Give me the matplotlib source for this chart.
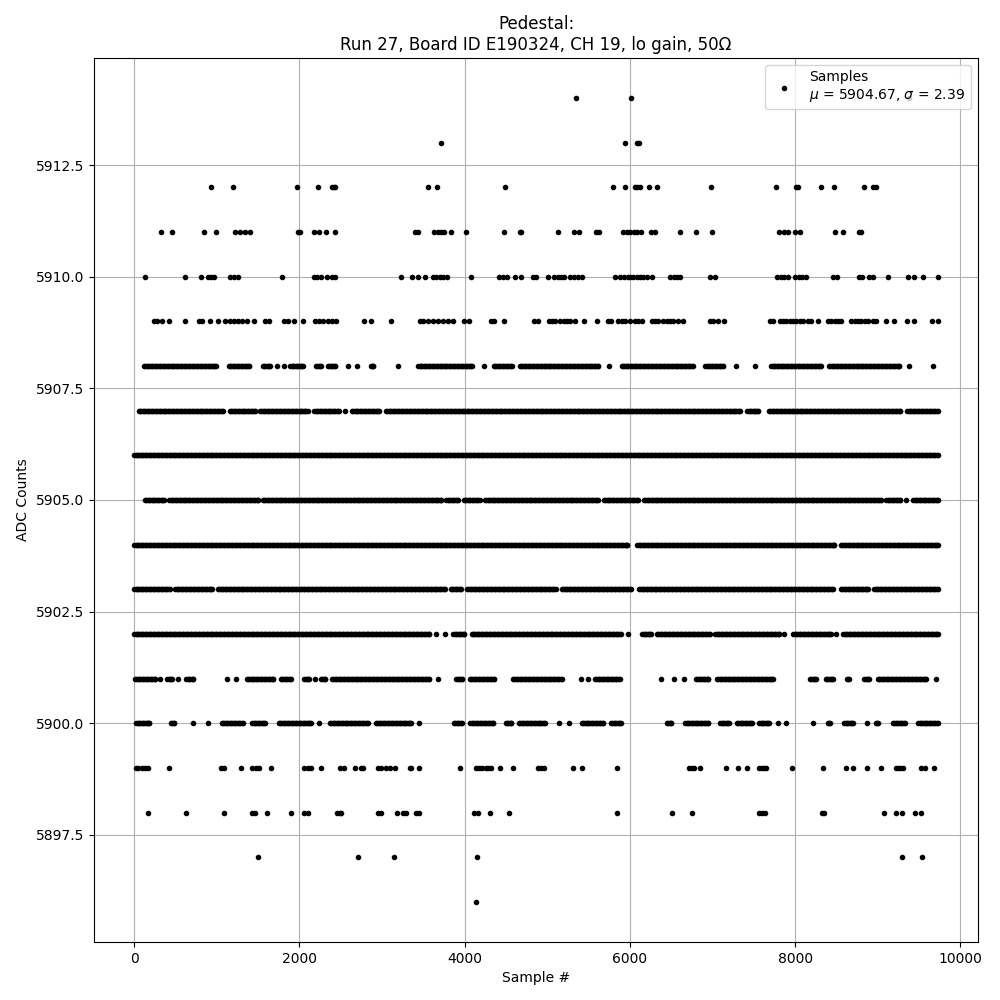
#!/usr/bin/env python3
# _*_ coding=utf-8 _*_

import numpy as np
import matplotlib
matplotlib.use("Agg")
import matplotlib.pyplot as plt

# pedestal samples, grouped by ADC level
# runs = (first, last) sample index of a dense stretch, dots = single samples
N_SAMPLES = 9728
RUN_STEP = 16
MU = 5904.67
SIGMA = 2.39

dots_5914 = [5352, 6018, 9384]
dots_5913 = [3715, 5935, 6090, 6110]
dots_5912 = [934, 1200, 1973, 2226, 2395, 2420, 2436, 3555, 3664, 4485,
             5801, 5946, 6067, 6091, 6124, 6236, 6333, 6985, 7770, 8008,
             8040, 8314, 8475, 8833, 8942, 8982]
dots_5911 = [330, 463, 850, 994, 1220, 1284, 1341, 1405, 1985, 2009, 2178,
             2234, 2319, 2432, 3402, 3434, 3623, 3676, 3716, 3756, 3837,
             4014, 4477, 4666, 4682, 5129, 5318, 5383, 5584, 5632, 5914,
             5963, 6003, 6051, 6091, 6140, 6252, 6301, 6611, 6804, 6997,
             7806, 7863, 7919, 8000, 8064, 8483, 8579, 8773, 8797]
dots_5910 = [125, 616, 809, 890, 930, 970, 1156, 1212, 1260, 1784, 2178,
             2218, 2259, 2331, 2395, 2436, 3233, 3362, 3434, 3515, 3615,
             3656, 3696, 3736, 3789, 4074, 4413, 4461, 4513, 4610, 4682,
             4827, 4863, 5004, 5085, 5125, 5165, 5206, 5278, 5318, 5367,
             5423, 5822, 5882, 5930, 5971, 6003, 6043, 6083, 6124, 6164,
             6212, 6268, 6486, 6534, 6575, 6607, 6969, 7029, 7782, 7823,
             7863, 7919, 8000, 8048, 8088, 8137, 8459, 8507, 8773, 8813,
             8893, 8942, 9123, 9365, 9433, 9546, 9727]
dots_5909 = [238, 278, 334, 423, 616, 785, 817, 918, 1019, 1099, 1160, 1212,
             1260, 1300, 1361, 1453, 1582, 1631, 1816, 1864, 1937, 2041,
             2186, 2234, 2283, 2347, 2395, 2448, 2782, 2871, 3104, 3454,
             3495, 3555, 3615, 3676, 3736, 3797, 3857, 3990, 4054, 4320,
             4360, 4473, 4835, 4884, 5016, 5057, 5097, 5157, 5198, 5238,
             5278, 5339, 5439, 5600, 5729, 5769, 5862, 5902, 5942, 6003,
             6063, 6103, 6144, 6264, 6305, 6345, 6405, 6446, 6486, 6526,
             6587, 6647, 6969, 7009, 7070, 7142, 7694, 7734, 7815, 7855,
             7895, 7935, 7976, 8016, 8056, 8096, 8157, 8197, 8277, 8398,
             8439, 8479, 8519, 8559, 8680, 8720, 8761, 8801, 8841, 8881,
             8942, 8982, 9095, 9196, 9357, 9437, 9658, 9727]
runs_5908 = [(120, 990), (1145, 1395), (1555, 1640), (1890, 2048),
             (2200, 2262), (2345, 2435), (2862, 2895), (3440, 4085),
             (4353, 4570), (4667, 5615), (5900, 6763), (6914, 7125),
             (7711, 8313), (8411, 9259)]
dots_5908 = [1723, 1818, 2589, 2701, 3199, 4231, 5753, 7287, 7516, 9376,
             9666]
runs_5907 = [(55, 1075), (1155, 1460), (1525, 2100), (2180, 2475),
             (2635, 2960), (3050, 7330), (7420, 7550), (7685, 9270),
             (9360, 9727)]
dots_5907 = [2557]
runs_5906 = [(0, 9727)]
runs_5905 = [(130, 360), (425, 1500), (1555, 3715), (3780, 3915),
             (3990, 4180), (4245, 5615), (5685, 6100), (6170, 9040),
             (9105, 9275), (9430, 9727)]
dots_5905 = [9336]
runs_5904 = [(0, 5970), (6090, 8475), (8555, 9727)]
runs_5903 = [(0, 430), (500, 945), (1015, 3765), (3830, 3955), (4030, 5100),
             (5180, 6010), (6110, 8455), (8555, 8885), (8960, 9727)]
runs_5902 = [(0, 3570), (3862, 3995), (4083, 5890), (6150, 6260),
             (6330, 6965), (7035, 7810), (7980, 8435), (8585, 9727)]
dots_5902 = [3648, 3768, 5983, 7870, 8499]
runs_5901 = [(10, 250), (400, 460), (630, 715), (1360, 1680), (1775, 1900),
             (2060, 2110), (2262, 2310), (2395, 3565), (3900, 3965),
             (4062, 4355), (4587, 5173), (5577, 5877), (6800, 6945),
             (7054, 7730), (8180, 8255), (8370, 8455), (8625, 8655),
             (8838, 8897), (8998, 9580)]
dots_5901 = [314, 536, 1119, 1228, 2186, 3676, 5409, 5487, 6373, 6534, 6655,
             9700]
runs_5900 = [(25, 185), (445, 480), (1060, 1315), (1430, 1580), (1750, 2140),
             (2370, 2825), (2928, 3350), (3870, 3965), (4070, 4345),
             (4495, 4560), (4658, 4975), (5415, 5677), (5770, 5890),
             (6450, 6500), (6670, 6945), (7095, 7205), (7295, 7475),
             (7565, 7680), (8395, 8425), (8595, 8695), (8975, 9000),
             (9185, 9325), (9490, 9727)]
dots_5900 = [713, 898, 2238, 3446, 5137, 5258, 7798, 7887, 8217, 8869]
dots_5899 = [20, 52, 93, 133, 173, 427, 1051, 1091, 1292, 1429, 1470, 1510,
             1659, 2057, 2098, 2138, 2263, 2488, 2540, 2669, 2742, 2774,
             2951, 2983, 3052, 3092, 3152, 3334, 3354, 3446, 3945, 4139,
             4179, 4207, 4260, 4288, 4320, 4433, 4582, 4884, 4924, 4964,
             5306, 5415, 5838, 6719, 6748, 6776, 6852, 7158, 7311, 7420,
             7565, 7593, 7621, 7653, 7963, 8338, 8612, 8700, 8869, 9038,
             9216, 9244, 9272, 9304, 9522, 9570, 9675]
dots_5898 = [173, 632, 1091, 1429, 1461, 1610, 1900, 2057, 2106, 2456, 2488,
             2508, 2951, 2983, 3181, 3253, 3293, 3414, 3446, 4119, 4159,
             4312, 4533, 5838, 6514, 6756, 7565, 7601, 7637, 8330, 8354,
             9075, 9224, 9292, 9449, 9522]
dots_5897 = [1502, 2709, 3144, 4147, 9292, 9538]
dots_5896 = [4139]

levels = {
    5914: ([], dots_5914), 5913: ([], dots_5913), 5912: ([], dots_5912),
    5911: ([], dots_5911), 5910: ([], dots_5910), 5909: ([], dots_5909),
    5908: (runs_5908, dots_5908), 5907: (runs_5907, dots_5907),
    5906: (runs_5906, []), 5905: (runs_5905, dots_5905),
    5904: (runs_5904, []), 5903: (runs_5903, []),
    5902: (runs_5902, dots_5902), 5901: (runs_5901, dots_5901),
    5900: (runs_5900, dots_5900), 5899: ([], dots_5899),
    5898: ([], dots_5898), 5897: ([], dots_5897), 5896: ([], dots_5896),
}


def build_points():
    xs, ys = [], []
    for adc, (runs, dots) in levels.items():
        pts = list(dots)
        for a, b in runs:
            pts.extend(range(a, b + 1, RUN_STEP))
            pts.append(b)
        xs.extend(pts)
        ys.extend([adc] * len(pts))
    return np.array(xs), np.array(ys)


def main():
    x, y = build_points()

    fig, ax = plt.subplots(figsize=(10, 10), dpi=100)
    fig.subplots_adjust(left=0.094, right=0.978, bottom=0.058, top=0.942)

    label = "Samples\n$\\mu$ = {:.2f}, $\\sigma$ = {:.2f}".format(MU, SIGMA)
    ax.plot(x, y, ".", color="k", markersize=6, label=label)
    ax.set_xlim(-0.05 * (N_SAMPLES - 1), 1.05 * (N_SAMPLES - 1))
    ax.grid(True)
    ax.set_axisbelow(True)
    ax.set_xlabel("Sample #")
    ax.set_ylabel("ADC Counts")
    ax.set_title("Pedestal:\nRun 27, Board ID E190324, CH 19, lo gain, 50\u03a9")
    ax.legend(loc="upper right")

    fig.savefig("out.png")


if __name__ == "__main__":
    main()
